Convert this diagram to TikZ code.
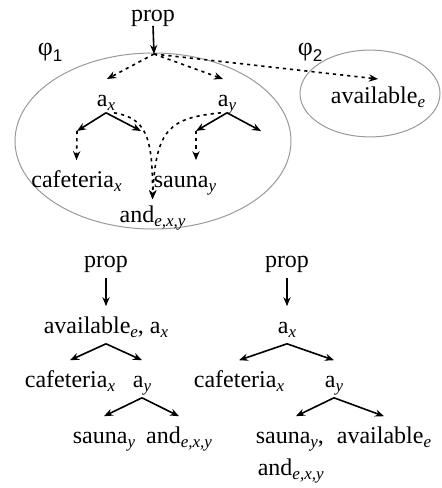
\documentclass[tikz,border=0pt]{standalone}
\usepackage{fontspec}
\setmainfont{Liberation Serif}
\setsansfont{Liberation Sans}
\usepackage{tikz}
\usetikzlibrary{arrows.meta}
\newcommand{\ix}[1]{\raisebox{-2.4pt}{\fontsize{8.5}{9}\selectfont\itshape #1}}
\newcommand{\phin}[1]{{\fontsize{13}{14}\selectfont φ\raisebox{-3pt}{\sffamily\fontsize{8.5}{9}\selectfont #1}}}

\begin{document}
\begin{tikzpicture}[x=0.5pt,y=-0.5pt,->,>={Stealth[length=4.5pt,width=3.6pt]},line width=0.8pt,
  font=\fontsize{12}{16}\selectfont,
  w/.style={inner sep=0pt,anchor=base,text height=13pt,text depth=5pt},
  dots/.style={dash pattern=on 1.6pt off 2pt},
  ring/.style={-,draw=black!40,line width=0.5pt}]
  \useasboundingbox (0,0) rectangle (441,488);

  % upper picture: the two parts
  \draw[ring] (153,141) ellipse [x radius=69pt, y radius=44pt];
  \draw[ring] (370,93.5) ellipse [x radius=35pt, y radius=21.7pt];
  \node [anchor=base west,inner sep=0pt] (f1) at (37,55) {\phin{1}};
  \node [anchor=base west,inner sep=0pt] (f2) at (297,55) {\phin{2}};

  \node [w] (p0) at (153,21) {prop};
  \node [w] (ax1) at (106,106) {a\ix{x}};
  \node [w] (ay1) at (227,106) {a\ix{y}};
  \node [w] (av1) at (378,103) {available\ix{e}};
  \node [w] (cafe1) at (76.5,187) {cafeteria\ix{x}};
  \node [w] (sau1) at (185,187) {sauna\ix{y}};
  \node [w] (and1) at (152.5,222) {and\ix{e,x,y}};

  \coordinate (j) at (154,54);
  \coordinate (tl) at (107,79);
  \coordinate (tr) at (223,79);
  \coordinate (te) at (378,79);
  \coordinate (cl) at (77,131);
  \coordinate (cr) at (141,131);
  \coordinate (sl) at (196,131);
  \coordinate (sr) at (261,131);

  \draw ([yshift=3pt]p0.south) -- (j);
  \draw[dots] (j) -- (tl);
  \draw[dots] (j) -- (tr);
  \draw[dots] (j) -- (te);

  \draw ([yshift=2pt]ax1.south) -- (cl);
  \draw ([yshift=2pt]ax1.south) -- (cr);
  \draw ([yshift=2pt]ay1.south) -- (sl);
  \draw ([yshift=2pt]ay1.south) -- (sr);
  \draw[dots] (cl) -- (cafe1.north);
  \draw[dots] (sl) -- (sl |- sau1.north);
  \draw[dots] ([xshift=4pt,yshift=2pt]ax1.south) .. controls (145,118) and (153,135) .. ([yshift=-2pt]and1.north);
  \draw[dots] ([xshift=-3pt,yshift=2pt]ay1.south) .. controls (170,118) and (156,128) .. ([yshift=-2pt]and1.north);

  % lower left tree
  \node [w] (p1) at (106,267) {prop};
  \node [w] (avx) at (106,333) {available\ix{e}, a\ix{x}};
  \node [w] (cafe2) at (70,387) {cafeteria\ix{x}};
  \node [w] (ay2) at (142,387) {a\ix{y}};
  \node [w] (sau2) at (104,443) {sauna\ix{y}};
  \node [w] (and2) at (179,443) {and\ix{e,x,y}};

  \draw (p1.south) -- (avx.north);
  \draw (avx.south) -- (cafe2.north);
  \draw (avx.south) -- (ay2.north);
  \draw (ay2.south) -- (sau2.north);
  \draw (ay2.south) -- (and2.north);

  % lower right tree
  \node [w] (p2) at (287,267) {prop};
  \node [w] (ax3) at (287,333) {a\ix{x}};
  \node [w] (cafe3) at (239,387) {cafeteria\ix{x}};
  \node [w] (ay3) at (334,387) {a\ix{y}};
  \node [w,anchor=base west] (sau3) at (255,443) {sauna\ix{y},};
  \node [w,anchor=base west] (and3) at (257,475) {and\ix{e,x,y}};
  \node [w] (av3) at (384,443) {available\ix{e}};

  \draw (p2.south) -- (ax3.north);
  \draw (ax3.south) -- (cafe3.north);
  \draw (ax3.south) -- (ay3.north);
  \draw (ay3.south) -- ([xshift=3pt]sau3.north);
  \draw (ay3.south) -- (av3.north);
\end{tikzpicture}
\end{document}
